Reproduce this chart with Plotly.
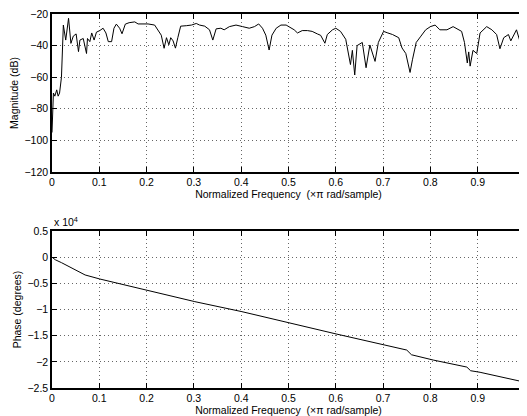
import plotly.graph_objects as go
from plotly.subplots import make_subplots

# Magnitude response readings (normalized frequency, dB)
mag_freq = [0.000, 0.003, 0.006, 0.010, 0.013, 0.016, 0.020, 0.024, 0.029, 0.035,
            0.040, 0.045, 0.051, 0.056, 0.059, 0.066, 0.073, 0.075, 0.080, 0.084,
            0.089, 0.094, 0.101, 0.108, 0.114, 0.119, 0.126, 0.131, 0.136, 0.143,
            0.148, 0.155, 0.163, 0.175, 0.182, 0.203, 0.217, 0.224, 0.231, 0.237,
            0.242, 0.247, 0.251, 0.256, 0.261, 0.266, 0.272, 0.284, 0.295, 0.305,
            0.312, 0.323, 0.333, 0.340, 0.347, 0.357, 0.364, 0.375, 0.389, 0.403,
            0.417, 0.428, 0.437, 0.445, 0.452, 0.459, 0.465, 0.474, 0.484, 0.495,
            0.501, 0.512, 0.519, 0.529, 0.540, 0.550, 0.561, 0.568, 0.577, 0.582,
            0.593, 0.600, 0.610, 0.621, 0.631, 0.635, 0.640, 0.645, 0.656, 0.664,
            0.672, 0.683, 0.690, 0.701, 0.710, 0.720, 0.733, 0.740, 0.748, 0.757,
            0.762, 0.770, 0.780, 0.790, 0.800, 0.810, 0.820, 0.835, 0.848, 0.860,
            0.866, 0.872, 0.878, 0.881, 0.884, 0.890, 0.898, 0.905, 0.919, 0.930,
            0.940, 0.947, 0.955, 0.965, 0.970, 0.982, 0.990, 1.000]
mag_db = [-95, -70, -72, -68, -72, -70, -60, -27, -36.5, -22.7,
          -38.6, -34, -32.6, -43.8, -36.5, -35.5, -45, -35.5, -37.5, -32,
          -36.5, -31.5, -30.5, -29, -32, -37.5, -37.5, -29, -26.4, -29,
          -32.5, -26.4, -25.5, -25, -26.3, -26.3, -27, -30, -33.4, -41.7,
          -35, -39.5, -35, -37, -41.6, -35, -27.7, -27.4, -27, -26,
          -27, -27.7, -30, -36.5, -29.4, -29, -30, -28, -27, -28,
          -29, -28, -26.3, -29, -33.4, -42.8, -33.4, -29, -27, -27,
          -28, -30, -32, -30.5, -30.5, -31, -32.6, -33.5, -38.5, -33,
          -30, -29, -31, -36, -52, -43, -58.6, -40, -38, -54,
          -39.6, -50, -38, -31, -32, -33, -35, -41.5, -45, -57,
          -49, -38, -34, -30, -28, -27, -30, -30, -28, -30,
          -31, -38, -51, -44, -53, -43, -45, -32, -28, -30,
          -33, -42, -35, -33, -37, -30, -38, -40]

# Phase response readings (normalized frequency, degrees)
ph_freq = [0.000, 0.007, 0.020, 0.070, 0.101, 0.200, 0.302, 0.401, 0.503, 0.602,
           0.704, 0.750, 0.760, 0.806, 0.877, 0.885, 0.905, 1.000]
ph_deg = [0, -500, -1050, -3400, -4170, -6270, -8500, -10400, -12640, -14700,
          -16800, -17750, -18650, -19660, -21000, -21700, -22000, -23900]

x_ticks = [0, 0.1, 0.2, 0.3, 0.4, 0.5, 0.6, 0.7, 0.8, 0.9, 1]
x_ticktext = ["0", "0.1", "0.2", "0.3", "0.4", "0.5", "0.6", "0.7", "0.8", "0.9", "1"]
mag_ticks = [-120, -100, -80, -60, -40, -20]
ph_ticks = [-25000, -20000, -15000, -10000, -5000, 0, 5000]
ph_ticktext = ["\u22122.5", "\u22122", "\u22121.5", "\u22121", "\u22120.5", "0", "0.5"]

xlabel = "Normalized Frequency  (\u00d7\u03c0 rad/sample)"

fig = make_subplots(rows=2, cols=1)
fig.add_trace(go.Scatter(x=mag_freq, y=mag_db, mode="lines",
                         line=dict(color="black", width=1)), row=1, col=1)
fig.add_trace(go.Scatter(x=ph_freq, y=ph_deg, mode="lines",
                         line=dict(color="black", width=1)), row=2, col=1)

font = dict(family="Liberation Sans, Arial, sans-serif", size=10.5, color="black")

axis_common = dict(
    showline=True, linecolor="black", linewidth=1.5, mirror="ticks",
    ticks="inside", ticklen=5, tickcolor="black",
    showgrid=True, gridcolor="#666666", griddash="1px,3px", gridwidth=1,
    zeroline=False, tickfont=font, automargin=False, ticklabeloverflow="allow",
)

# The page body adds an 8px offset, so the figure is 8px smaller each way.
fig.update_layout(
    width=519, height=408,
    margin=dict(l=44, r=2, t=6, b=28, autoexpand=False),
    paper_bgcolor="white", plot_bgcolor="white",
    showlegend=False, font=font,
    xaxis=dict(axis_common, range=[0, 1], tickvals=x_ticks, ticktext=x_ticktext,
               title=dict(text=xlabel, font=font, standoff=2), domain=[0, 1]),
    yaxis=dict(axis_common, range=[-120, -20], tickvals=mag_ticks,
               title=dict(text="Magnitude (dB)", font=font, standoff=4),
               domain=[0.5775, 1]),
    xaxis2=dict(axis_common, range=[0, 1], tickvals=x_ticks, ticktext=x_ticktext,
                title=dict(text=xlabel, font=font, standoff=2), domain=[0, 1]),
    yaxis2=dict(axis_common, range=[-25000, 5000], tickvals=ph_ticks,
                ticktext=ph_ticktext,
                title=dict(text="Phase (degrees)", font=font, standoff=4),
                domain=[0, 0.4198]),
)

fig.add_annotation(text="x 10<sup>4</sup>", xref="paper", yref="paper",
                   x=0.0, y=0.4198, xanchor="left", yanchor="bottom",
                   showarrow=False, font=font, yshift=1)

fig.write_html("out.html")
